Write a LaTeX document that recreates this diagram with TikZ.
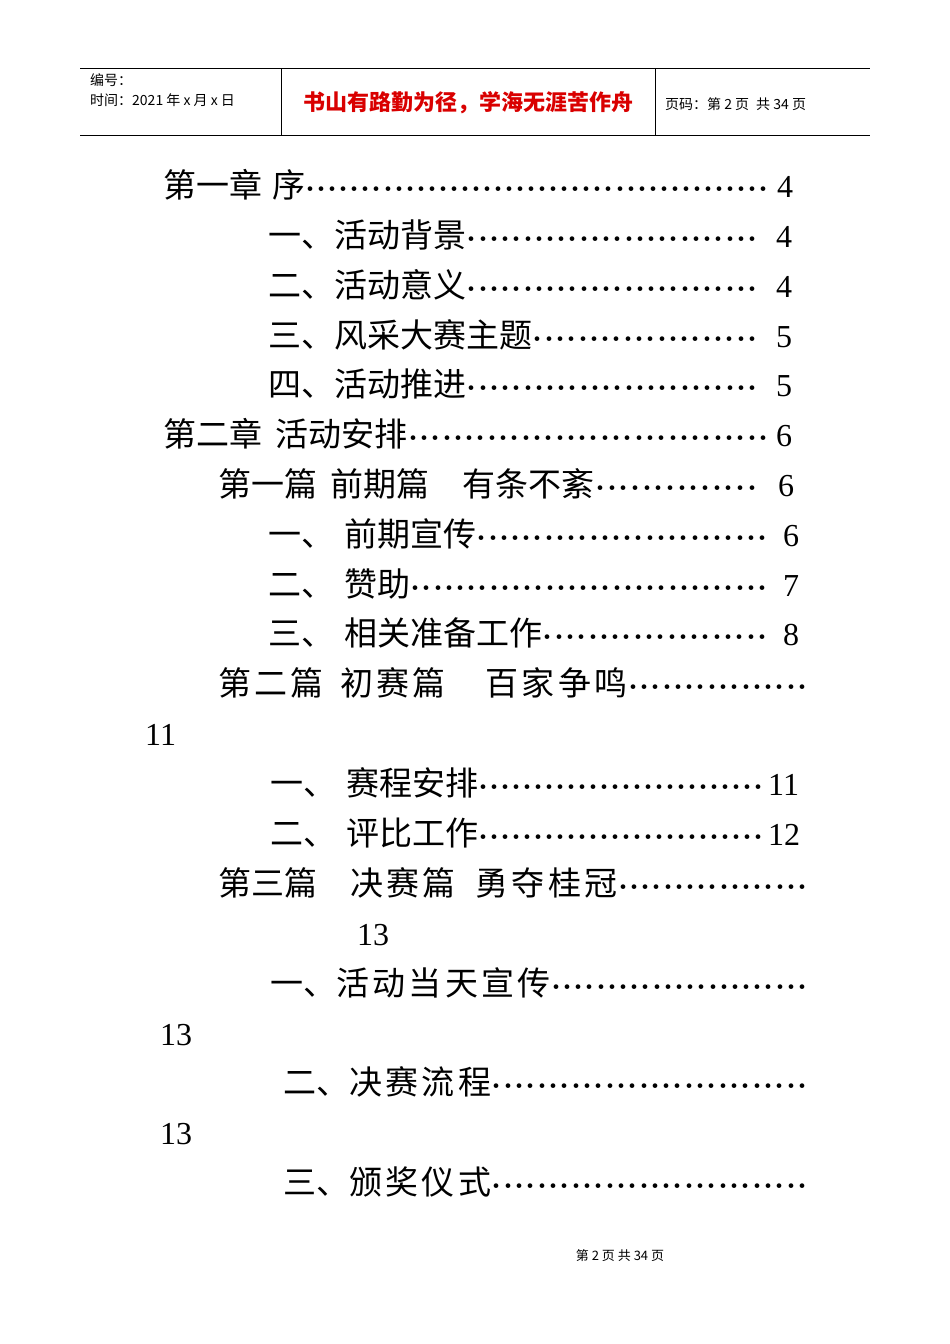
\documentclass[tikz,border=0pt]{standalone}
\usepackage{fontspec}
\setmainfont{Noto Sans CJK SC}
\newfontfamily\numf{Liberation Serif}
\newcommand{\lb}[2]{\hbox to #1pt{#2\xleaders\hbox to 11pt{\hss\fontsize{22}{22}\selectfont·\hss}\hfill}}
\begin{document}
\begin{tikzpicture}[x=1pt,y=-1pt,
  toc/.style={anchor=base west,inner sep=0pt,font=\fontsize{33}{33}\selectfont},
  num/.style={anchor=base west,inner sep=0pt,font=\fontsize{32}{32}\selectfont\numf},
  hd/.style={anchor=base west,inner sep=0pt,font=\fontsize{14}{14}\selectfont}]
\useasboundingbox[fill=white] (0,0) rectangle (950,1344);
\draw[line width=0.8pt] (80,68) -- (870,68);
\draw[line width=0.8pt] (80,135) -- (870,135);
\draw[line width=0.6pt] (281,68) -- (281,135);
\draw[line width=0.6pt] (655,68) -- (655,135);
\node[hd] (h1) at (90,85) {编号：};
\node[hd] (h2) at (90,105) {时间：2021 年 x 月 x 日};
\node[anchor=center,inner sep=0pt,font=\fontsize{22}{22}\selectfont\bfseries,text=red!85!black] (h3) at (468,103) {书山有路勤为径，学海无涯苦作舟};
\node[hd] (h4) at (665,109) {页码：第 2 页\hspace{0.5em}共 34 页};
\node[anchor=center,inner sep=0pt,font=\fontsize{13}{13}\selectfont] (ft) at (620,1256) {第 2 页 共 34 页};
\node[toc] (l1) at (163,197) {\lb{606}{第一章\hspace{0.3em}序}}; \node[num] at (777,197) {4};
\node[toc] (l2) at (268,247) {\lb{490}{一、活动背景}}; \node[num] at (776,247) {4};
\node[toc] (l3) at (268,297) {\lb{490}{二、活动意义}}; \node[num] at (776,297) {4};
\node[toc] (l4) at (268,347) {\lb{490}{三、风采大赛主题}}; \node[num] at (776,347) {5};
\node[toc] (l5) at (268,396) {\lb{490}{四、活动推进}}; \node[num] at (776,396) {5};
\node[toc] (l6) at (163,446) {\lb{606}{第二章\hspace{0.4em}活动安排}}; \node[num] at (776,446) {6};
\node[toc] (l7) at (218,496) {\lb{540}{第一篇\hspace{0.4em}前期篇\hspace{1em}有条不紊}}; \node[num] at (778,496) {6};
\node[toc] (l8) at (268,546) {\lb{500}{一、\hspace{0.3em}前期宣传}}; \node[num] at (783,546) {6};
\node[toc] (l9) at (268,596) {\lb{500}{二、\hspace{0.3em}赞助}}; \node[num] at (783,596) {7};
\node[toc] (l10) at (268,645) {\lb{500}{三、\hspace{0.3em}相关准备工作}}; \node[num] at (783,645) {8};
\node[toc] (l11) at (218,695) {\lb{590}{第\hspace{0.1em}二\hspace{0.1em}篇\hspace{0.5em}初\hspace{0.1em}赛\hspace{0.1em}篇\hspace{1.2em}百\hspace{0.1em}家\hspace{0.1em}争\hspace{0.1em}鸣}};
\node[num] (l12) at (145,745) {11};
\node[toc] (l13) at (270,795) {\lb{494}{一、\hspace{0.3em}赛程安排}}; \node[num] at (768,795) {11};
\node[toc] (l14) at (270,845) {\lb{494}{二、\hspace{0.3em}评比工作}}; \node[num] at (768,845) {12};
\node[toc] (l15) at (218,895) {\lb{590}{第三篇\hspace{1em}决\hspace{0.1em}赛\hspace{0.1em}篇\hspace{0.6em}勇\hspace{0.1em}夺\hspace{0.1em}桂\hspace{0.1em}冠}};
\node[num] (l16) at (357,945) {13};
\node[toc] (l17) at (270,995) {\lb{538}{一、活\hspace{0.1em}动\hspace{0.1em}当\hspace{0.1em}天\hspace{0.1em}宣\hspace{0.1em}传}};
\node[num] (l18) at (160,1045) {13};
\node[toc] (l19) at (283,1094) {\lb{525}{二、决\hspace{0.1em}赛\hspace{0.1em}流\hspace{0.1em}程}};
\node[num] (l20) at (160,1144) {13};
\node[toc] (l21) at (283,1194) {\lb{525}{三、颁\hspace{0.1em}奖\hspace{0.1em}仪\hspace{0.1em}式}};
\end{tikzpicture}
\end{document}
